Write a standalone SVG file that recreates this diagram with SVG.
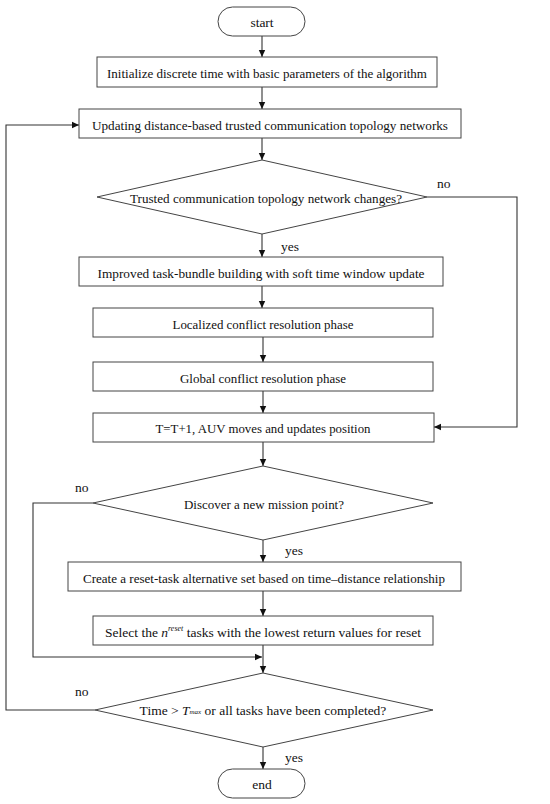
<svg xmlns="http://www.w3.org/2000/svg" width="550" height="804" viewBox="0 0 550 804">
<defs>
<marker id="ah" markerWidth="8" markerHeight="8" refX="7" refY="4" orient="auto" markerUnits="userSpaceOnUse">
<path d="M0,0.8 L7,4 L0,7.2 Z" fill="#111"/>
</marker>
<style>
.n{fill:#fff;stroke:#444;stroke-width:1}
.t{font-family:'Liberation Serif',serif;font-size:13.5px;fill:#111;text-anchor:middle;dominant-baseline:central}
.l{font-family:'Liberation Serif',serif;font-size:13.5px;fill:#111}
.c{fill:none;stroke:#333;stroke-width:1.1}
</style>
</defs>
<rect width="550" height="804" fill="#fff"/>
<g id="connectors">
<path class="c" d="M262,36 V57" marker-end="url(#ah)"/>
<path class="c" d="M262,87 V109" marker-end="url(#ah)"/>
<path class="c" d="M262,138 V160" marker-end="url(#ah)"/>
<path class="c" d="M262,234 V257" marker-end="url(#ah)"/>
<path class="c" d="M262,286 V308" marker-end="url(#ah)"/>
<path class="c" d="M263,337 V362" marker-end="url(#ah)"/>
<path class="c" d="M263,391 V413" marker-end="url(#ah)"/>
<path class="c" d="M263,442 V466" marker-end="url(#ah)"/>
<path class="c" d="M263,540 V562" marker-end="url(#ah)"/>
<path class="c" d="M263,591 V616" marker-end="url(#ah)"/>
<path class="c" d="M263,645 V673" marker-end="url(#ah)"/>
<path class="c" d="M263,747 V769" marker-end="url(#ah)"/>
<path class="c" d="M427,197 H517 V427 H434" marker-end="url(#ah)"/>
<path class="c" d="M93,503 H33 V657 H262" marker-end="url(#ah)"/>
<path class="c" d="M95,710 H6 V125 H79" marker-end="url(#ah)"/>
<text class="l" x="437" y="188" font-family="Liberation Serif, serif">no</text>
<text class="l" x="281" y="251" font-family="Liberation Serif, serif">yes</text>
<text class="l" x="75" y="492" font-family="Liberation Serif, serif">no</text>
<text class="l" x="285" y="555" font-family="Liberation Serif, serif">yes</text>
<text class="l" x="75" y="696" font-family="Liberation Serif, serif">no</text>
<text class="l" x="285" y="762" font-family="Liberation Serif, serif">yes</text>
</g>
<g id="start"><rect class="n" x="218" y="7" width="87" height="29" rx="14.5"/><text class="t" x="262" y="22">start</text></g>
<g id="init"><rect class="n" x="97" y="57" width="340" height="30"/><text class="t" x="267" y="73" textLength="320" lengthAdjust="spacingAndGlyphs">Initialize discrete time with basic parameters of the algorithm</text></g>
<g id="update"><rect class="n" x="79" y="109" width="382" height="29"/><text class="t" x="270" y="125" textLength="356" lengthAdjust="spacingAndGlyphs">Updating distance-based trusted communication topology networks</text></g>
<g id="decision1"><polygon class="n" points="262,160 427,197 262,234 97,197"/><text class="t" x="266" y="198" textLength="272" lengthAdjust="spacingAndGlyphs">Trusted communication topology network changes?</text></g>
<g id="bundle"><rect class="n" x="79" y="257" width="364" height="29"/><text class="t" x="261" y="273" textLength="327" lengthAdjust="spacingAndGlyphs">Improved task-bundle building with soft time window update</text></g>
<g id="localized"><rect class="n" x="93" y="308" width="340" height="29"/><text class="t" x="263" y="324" textLength="181" lengthAdjust="spacingAndGlyphs">Localized conflict resolution phase</text></g>
<g id="global"><rect class="n" x="93" y="362" width="340" height="29"/><text class="t" x="263" y="378" textLength="166" lengthAdjust="spacingAndGlyphs">Global conflict resolution phase</text></g>
<g id="move"><rect class="n" x="93" y="413" width="341" height="29"/><text class="t" x="263" y="428" textLength="215" lengthAdjust="spacingAndGlyphs">T=T+1, AUV moves and updates position</text></g>
<g id="decision2"><polygon class="n" points="263,466 433,503 263,540 93,503"/><text class="t" x="264" y="504" textLength="160" lengthAdjust="spacingAndGlyphs">Discover a new mission point?</text></g>
<g id="create"><rect class="n" x="68" y="562" width="393" height="29"/><text class="t" x="264" y="578" textLength="362" lengthAdjust="spacingAndGlyphs">Create a reset-task alternative set based on time–distance relationship</text></g>
<g id="select"><rect class="n" x="93" y="616" width="340" height="29"/><text class="t" x="263" y="632">Select the <tspan font-style="italic">n</tspan><tspan font-style="italic" font-size="8" dy="-4">reset</tspan><tspan dy="4"> tasks with the lowest return values for reset</tspan></text></g>
<g id="decision3"><polygon class="n" points="263,673 433,710 263,747 95,710"/><text class="t" x="263" y="710">Time &gt; <tspan font-style="italic">T</tspan><tspan font-style="italic" font-size="7" dy="2">max</tspan><tspan dy="-2"> or all tasks have been completed?</tspan></text></g>
<g id="end"><rect class="n" x="218" y="769" width="87" height="29" rx="14.5"/><text class="t" x="262" y="784">end</text></g>
</svg>
